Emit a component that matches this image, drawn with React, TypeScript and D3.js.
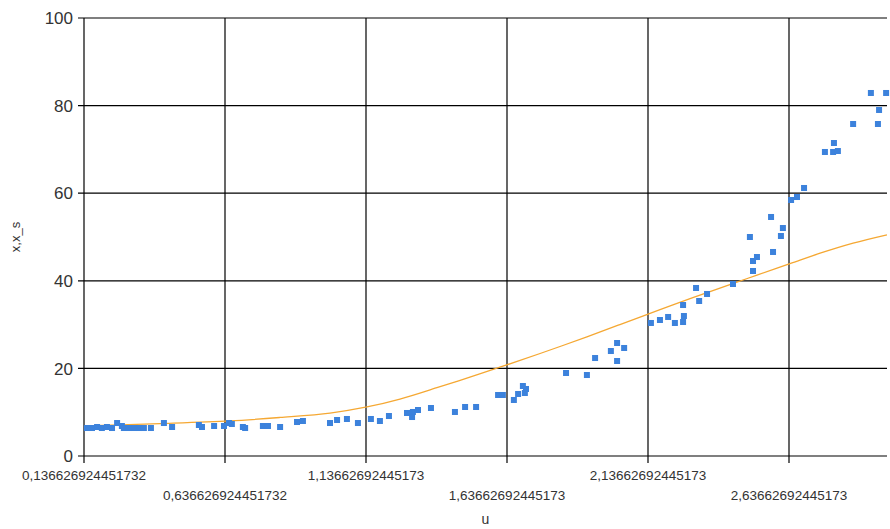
import React from "react";
import * as d3 from "d3";

// ---- Data ----
const uValues = [
  0.147, 0.165, 0.183, 0.2, 0.218, 0.236, 0.254, 0.271, 0.278, 0.296, 0.314, 0.332, 0.349, 0.374,
  0.42, 0.449, 0.544, 0.555, 0.598, 0.633, 0.651, 0.661, 0.7, 0.708, 0.771, 0.789, 0.832, 0.892,
  0.913, 1.009, 1.034, 1.069, 1.108, 1.154, 1.186, 1.218, 1.282, 1.293, 1.3, 1.303, 1.321, 1.367,
  1.452, 1.488, 1.527, 1.605, 1.622, 1.661, 1.676, 1.693, 1.7, 1.704, 1.846, 1.92, 1.949, 2.005,
  2.027, 2.027, 2.052, 2.147, 2.179, 2.208, 2.232, 2.261, 2.261, 2.264, 2.307, 2.318, 2.346, 2.438,
  2.498, 2.509, 2.509, 2.523, 2.573, 2.58, 2.608, 2.615, 2.644, 2.665, 2.69, 2.764, 2.793, 2.81,
  2.796, 2.864, 2.927, 2.952, 2.956, 2.981,
];
const xValues = [
  6.39, 6.39, 6.62, 6.39, 6.62, 6.39, 7.53, 6.85, 6.39, 6.39, 6.39, 6.39, 6.39, 6.39,
  7.53, 6.62, 7.08, 6.62, 6.85, 6.85, 7.53, 7.31, 6.62, 6.39, 6.85, 6.85, 6.62, 7.76,
  7.99, 7.53, 8.22, 8.45, 7.53, 8.45, 7.99, 9.13, 9.82, 9.82, 8.9, 10.05, 10.5, 10.96,
  10.05, 11.19, 11.19, 13.93, 13.93, 12.79, 14.16, 15.98, 14.38, 15.3, 18.95, 18.49, 22.37, 23.97,
  25.8, 21.69, 24.66, 30.37, 31.05, 31.74, 30.37, 30.59, 34.47, 31.96, 38.36, 35.39, 36.99, 39.27,
  50.0, 42.24, 44.52, 45.43, 54.57, 46.58, 50.23, 52.05, 58.45, 59.13, 61.19, 69.41, 69.41, 69.63,
  71.46, 75.8, 82.88, 75.8, 79.0, 82.88,
];
const lineU = [
  0.1366, 0.406, 0.654, 0.832, 1.009, 1.14, 1.257, 1.388, 1.505, 1.622, 1.754, 1.92, 2.037, 2.137,
  2.225, 2.346, 2.452, 2.523, 2.64, 2.747, 2.864, 2.984,
];
const lineX = [
  6.9, 7.4, 8.0, 8.8, 9.8, 11.2, 13.0, 15.6, 18.0, 20.5, 23.4, 27.2, 30.0, 32.4,
  34.5, 37.3, 39.7, 41.3, 43.9, 46.3, 48.6, 50.5,
];
const xTickValues = [
  0.136626924451732, 0.636626924451732, 1.13662692445173, 1.63662692445173, 2.13662692445173,
  2.63662692445173,
];
const xTickLabels = [
  "0,136626924451732", "0,636626924451732", "1,13662692445173", "1,63662692445173",
  "2,13662692445173", "2,63662692445173",
];
const yTickValues = [0, 20, 40, 60, 80, 100];
const xTitle = "u";
const yTitle = "x,x_s";

const W = 890;
const H = 529;
const L = 84;
const R = 887;
const T = 18;
const B = 456;

export default function App() {
  const xs = d3.scaleLinear().domain([0.136626924451732, 0.136626924451732 + (R - L) / 282]).range([L, R]);
  const ys = d3.scaleLinear().domain([0, 100]).range([B, T]);
  const pts = uValues.map((u, i) => ({ u, v: xValues[i] }));
  const ln = lineU.map((u, i) => ({ u, v: lineX[i] }));
  const path = d3
    .line<{ u: number; v: number }>()
    .x((d) => xs(d.u))
    .y((d) => ys(d.v))
    .curve(d3.curveCatmullRom.alpha(0.5))(ln) as string;
  const font = "'Liberation Sans', Arial, sans-serif";
  return (
    <svg
      width={W}
      height={H}
      style={{ position: "absolute", left: 0, top: 0, background: "#fff" }}
      fontFamily={font}
    >
      <rect x={0} y={0} width={W} height={H} fill="#fff" />
      {/* grid */}
      {yTickValues.map((t) => (
        <line key={"gy" + t} x1={L - 6} x2={R} y1={ys(t)} y2={ys(t)} stroke="#000" strokeWidth={1.2} />
      ))}
      {xTickValues.map((t) => (
        <line key={"gx" + t} x1={xs(t)} x2={xs(t)} y1={T} y2={B + 7} stroke="#000" strokeWidth={1.2} />
      ))}
      {/* y labels */}
      {yTickValues.map((t) => (
        <text key={"ly" + t} x={73} y={ys(t)} dy="0.36em" textAnchor="end" fontSize={17} fill="#333">
          {t}
        </text>
      ))}
      {/* x labels */}
      {xTickValues.map((t, i) => (
        <text
          key={"lx" + t}
          x={xs(t)}
          y={i % 2 === 0 ? 480 : 500}
          textAnchor="middle"
          fontSize={13.5}
          fill="#333"
        >
          {xTickLabels[i]}
        </text>
      ))}
      <text x={(L + R) / 2} y={524} textAnchor="middle" fontSize={14} fill="#333">
        {xTitle}
      </text>
      <text
        transform={`translate(20,${(T + B) / 2}) rotate(-90)`}
        textAnchor="middle"
        fontSize={13}
        fill="#333"
      >
        {yTitle}
      </text>
      {/* line */}
      <path d={path} fill="none" stroke="#f5a833" strokeWidth={1.3} />
      {/* points */}
      {pts.map((p, i) => (
        <rect key={"p" + i} x={xs(p.u) - 3} y={ys(p.v) - 3} width={6} height={6} fill="#3c82dc" />
      ))}
    </svg>
  );
}
